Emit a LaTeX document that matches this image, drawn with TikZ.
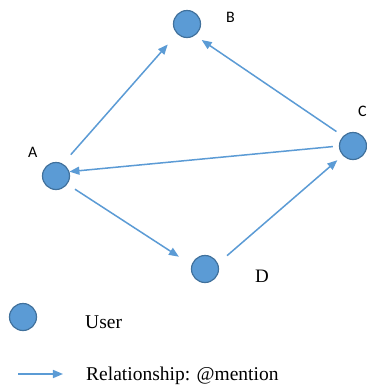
\documentclass[tikz,border=0pt]{standalone}
\usepackage{fontspec}
\setmainfont{Liberation Serif}
\newfontfamily\lblfont{Carlito}
\usetikzlibrary{arrows.meta}
\definecolor{ufill}{HTML}{5B9BD5}
\definecolor{uedge}{HTML}{41719C}
\begin{document}
\begin{tikzpicture}[x=1bp,y=-1bp,
  user/.style={circle,fill=ufill,draw=uedge,line width=1.2bp,minimum size=27bp,inner sep=0pt},
  rel/.style={draw=ufill,line width=1.5bp,-{Triangle[length=10bp,width=8bp]}},
  lbl/.style={font=\lblfont\fontsize{16bp}{18bp}\selectfont,anchor=base west,inner sep=0pt},
  txt/.style={font=\fontsize{19.5bp}{22bp}\selectfont,anchor=base west,inner sep=0pt}]
\useasboundingbox[fill=white] (0,0) rectangle (367,387);
\node[user] (A) at (56,176) {};
\node[user] (B) at (187,24) {};
\node[user] (C) at (353,146) {};
\node[user] (D) at (205,269) {};
\node[lbl] (lA) at (28,157) {A};
\node[lbl] (lB) at (226,22) {B};
\node[lbl] (lC) at (358,116) {C};
\node[txt,font=\fontsize{19bp}{22bp}\selectfont] (lD) at (255,282) {D};
\draw[rel,shorten <=12bp,shorten >=14bp] (A.61) -- (B.225);
\draw[rel,shorten <=8bp,shorten >=8bp] (C.135) -- (B.305);
\draw[rel,shorten <=6bp,shorten >=0bp] (C.180) -- (A.18);
\draw[rel,shorten <=9bp,shorten >=15bp] (A.324) -- (D.163);
\draw[rel,shorten <=12bp,shorten >=7bp] (D.23) -- (C.223);
\node[user] (L) at (23,317) {};
\node[txt] (tU) at (85,328) {User};
\coordinate (l1) at (18,374);
\coordinate (l2) at (63,374);
\draw[rel] (l1) -- (l2);
\node[txt] (tR) at (86,380) {Relationship: @mention};
\end{tikzpicture}
\end{document}
